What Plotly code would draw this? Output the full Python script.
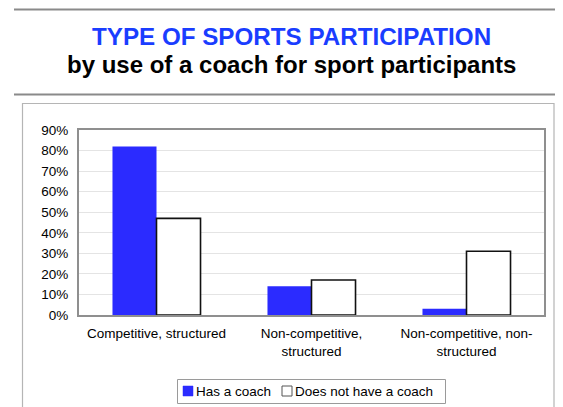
import plotly.graph_objects as go

# ---- data ----
categories = ["Competitive, structured",
              "Non-competitive,<br>structured",
              "Non-competitive, non-<br>structured"]
series_names = ["Has a coach", "Does not have a coach"]
has_coach = [0.82, 0.14, 0.03]
no_coach = [0.47, 0.17, 0.31]
y_ticks = [0, 0.1, 0.2, 0.3, 0.4, 0.5, 0.6, 0.7, 0.8, 0.9]
title_main = "TYPE OF SPORTS PARTICIPATION"
title_sub = "by use of a coach for sport participants"

# ---- layout geometry (pixels); page body has an 8px margin ----
OFF = 8
W, H = 563 - OFF, 407 - OFF
L, R, T, B = 79 - OFF, 19, 130 - OFF, 92
PW, PH = W - L - R, H - T - B


def px(x):  # screen x -> paper
    return (x - OFF - L) / PW


def py(y):  # screen y -> paper
    return (H - B - (y - OFF)) / PH


FONT = "Liberation Sans, Arial, Helvetica, sans-serif"
BLUE = "#2b2bff"

fig = go.Figure()
fig.add_trace(go.Bar(x=categories, y=has_coach, name=series_names[0],
                     marker=dict(color=BLUE, line=dict(color=BLUE, width=0)),
                     showlegend=False))
fig.add_trace(go.Bar(x=categories, y=no_coach, name=series_names[1],
                     marker=dict(color="white", line=dict(color="#111111", width=1.6)),
                     showlegend=False))

shapes = [
    # horizontal rules
    dict(type="line", xref="paper", yref="paper", x0=px(14), x1=px(563), y0=py(9.5), y1=py(9.5),
         line=dict(color="#8a8a8a", width=2.2)),
    dict(type="line", xref="paper", yref="paper", x0=px(14), x1=px(563), y0=py(94.5), y1=py(94.5),
         line=dict(color="#8a8a8a", width=2.2)),
    # outer chart frame
    dict(type="rect", xref="paper", yref="paper", x0=px(22.5), x1=px(554), y0=py(103.5), y1=py(420),
         line=dict(color="#b5b5b5", width=1.2), fillcolor="rgba(0,0,0,0)", layer="below"),
    # legend frame
    dict(type="rect", xref="paper", yref="paper", x0=px(177.5), x1=px(445.5), y0=py(379.5), y1=py(403.5),
         line=dict(color="#9a9a9a", width=1), fillcolor="white"),
    # legend symbols
    dict(type="rect", xref="paper", yref="paper", x0=px(183), x1=px(193), y0=py(386), y1=py(396),
         line=dict(color=BLUE, width=0.5), fillcolor=BLUE),
    dict(type="rect", xref="paper", yref="paper", x0=px(282), x1=px(292), y0=py(386), y1=py(396),
         line=dict(color="#555555", width=1), fillcolor="white"),
]

annotations = [
    dict(text="<b>" + title_main + "</b>", xref="paper", yref="paper", x=px(291), y=py(36.8),
         xanchor="center", yanchor="middle", showarrow=False,
         font=dict(family=FONT, size=24.2, color="#1a3dff")),
    dict(text="<b>" + title_sub + "</b>", xref="paper", yref="paper", x=px(291), y=py(64),
         xanchor="center", yanchor="middle", showarrow=False,
         font=dict(family=FONT, size=24, color="black")),
    dict(text=series_names[0], xref="paper", yref="paper", x=px(193.5), y=py(391),
         xanchor="left", yanchor="middle", showarrow=False,
         font=dict(family=FONT, size=13.5, color="black")),
    dict(text=series_names[1], xref="paper", yref="paper", x=px(292.5), y=py(391),
         xanchor="left", yanchor="middle", showarrow=False,
         font=dict(family=FONT, size=13.5, color="black")),
]

fig.update_layout(
    width=W, height=H,
    margin=dict(l=L, r=R, t=T, b=B, pad=0),
    paper_bgcolor="white", plot_bgcolor="white",
    barmode="group", bargap=0.432, bargroupgap=0,
    font=dict(family=FONT, size=13.5, color="black"),
    shapes=shapes, annotations=annotations,
    showlegend=False,
)
fig.update_xaxes(showline=True, linecolor="#8f8f8f", linewidth=2, mirror=True,
                 showgrid=False, ticks="", ticklabelstandoff=5,
                 tickfont=dict(family=FONT, size=13.5, color="black"))
fig.update_yaxes(range=[0, 0.9], tickvals=y_ticks, tickformat=".0%",
                 showline=True, linecolor="#8f8f8f", linewidth=2, mirror=True,
                 showgrid=True, gridcolor="#e4e4e4", gridwidth=1,
                 zeroline=False, ticks="", ticklabelstandoff=6,
                 tickfont=dict(family=FONT, size=13.5, color="black"))

fig.write_html("out.html")
